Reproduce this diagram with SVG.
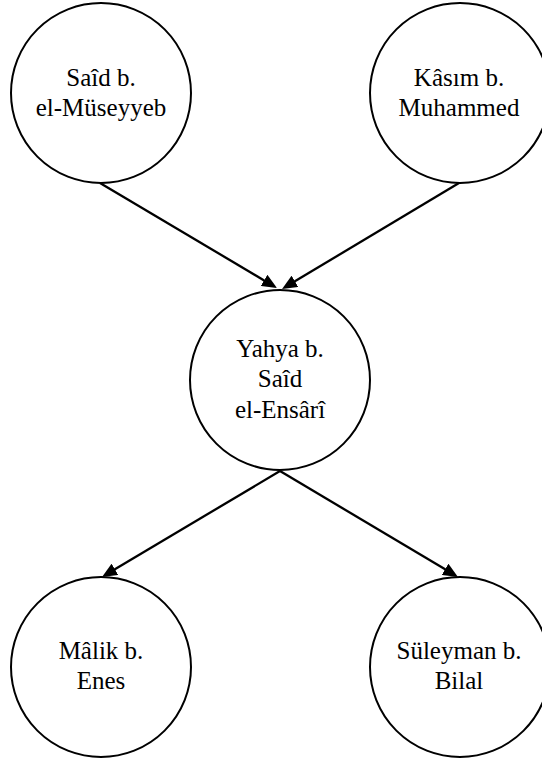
<svg xmlns="http://www.w3.org/2000/svg" width="542" height="760" viewBox="0 0 542 760">
<style>
.node circle{fill:#fff;stroke:#000;stroke-width:2}
.node text{font-family:"Liberation Serif","Times New Roman",serif;font-size:25px;fill:#000;text-anchor:middle}
.edge{stroke:#000;stroke-width:2.3;fill:none;marker-end:url(#arr)}
</style>
<defs>
<marker id="arr" markerUnits="userSpaceOnUse" markerWidth="15" markerHeight="13" refX="2" refY="6.5" orient="auto" viewBox="0 0 15 13">
<path d="M0,0 L15,6.5 L0,13 z" fill="#000"/>
</marker>
</defs>
<rect width="542" height="760" fill="#fff"/>
<g id="connectors">
<line class="edge" x1="100" y1="183" x2="265.8" y2="281.4"/>
<line class="edge" x1="459" y1="183" x2="293.2" y2="282.3"/>
<line class="edge" x1="280" y1="471" x2="113.2" y2="570.3"/>
<line class="edge" x1="280" y1="471" x2="446.8" y2="570.3"/>
</g>
<g id="said" class="node">
<circle cx="101" cy="93" r="90"/>
<text x="101" y="86">Saîd b.</text>
<text x="101" y="116">el-Müseyyeb</text>
</g>
<g id="kasim" class="node">
<circle cx="460" cy="93" r="90"/>
<text x="459" y="86">Kâsım b.</text>
<text x="459" y="116">Muhammed</text>
</g>
<g id="yahya" class="node">
<circle cx="280" cy="380" r="90"/>
<text x="280" y="357">Yahya b.</text>
<text x="280" y="387">Saîd</text>
<text x="280" y="418">el-Ensârî</text>
</g>
<g id="malik" class="node">
<circle cx="101" cy="667" r="90"/>
<text x="101" y="659">Mâlik b.</text>
<text x="101" y="689">Enes</text>
</g>
<g id="suleyman" class="node">
<circle cx="460" cy="667" r="90"/>
<text x="459" y="659">Süleyman b.</text>
<text x="459" y="689">Bilal</text>
</g>
</svg>
